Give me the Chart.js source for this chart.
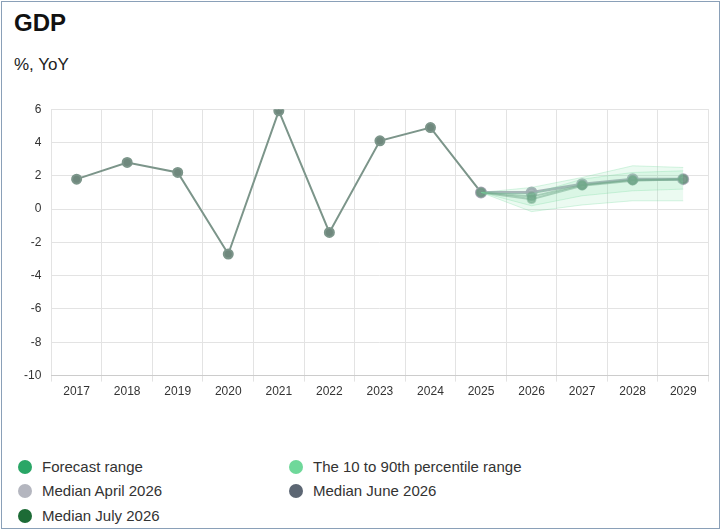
<!DOCTYPE html>
<html><head><meta charset="utf-8">
<script src="https://cdn.jsdelivr.net/npm/chart.js@4"></script>
<style>
body{margin:0;font-family:"Liberation Sans",Arial,sans-serif;background:#fff}
#wrap{position:absolute;left:1px;top:1px;width:719px;height:528px;border:1px solid #8aa0b8;box-sizing:border-box}
h1{position:absolute;left:12px;top:7px;margin:0;font-size:24px;font-weight:700;color:#111}
#sub{position:absolute;left:12px;top:53px;font-size:17px;color:#222}
#cv{position:absolute;left:12px;top:90px;width:702px;height:310px}
.lg{position:absolute;font-size:15px;color:#333;display:flex;align-items:center}
.lg i{display:inline-block;width:14px;height:14px;border-radius:50%;margin-right:10px}
</style></head><body>
<div id="wrap">
<h1>GDP</h1><div id="sub">%, YoY</div>
<div id="cv"><canvas id="c"></canvas></div>
<div class="lg" style="left:16px;top:456px"><i style="background:#2aa666"></i>Forecast range</div>
<div class="lg" style="left:287px;top:456px"><i style="background:#6fd89a"></i>The 10 to 90th percentile range</div>
<div class="lg" style="left:16px;top:480px"><i style="background:#b4b6bf"></i>Median April 2026</div>
<div class="lg" style="left:287px;top:480px"><i style="background:#5c6673"></i>Median June 2026</div>
<div class="lg" style="left:16px;top:505px"><i style="background:#1d6b36"></i>Median July 2026</div>
</div>
<script>
const years = ['2017','2018','2019','2020','2021','2022','2023','2024','2025','2026','2027','2028','2029'];
const actual = [1.8, 2.8, 2.2, -2.7, 5.9, -1.4, 4.1, 4.9, 1.0, null, null, null, null];
const rangeLow = [null, null, null, null, null, null, null, null, 1.0, -0.15, 0.25, 0.5, 0.5];
const rangeHigh = [null, null, null, null, null, null, null, null, 1.0, 1.3, 1.9, 2.6, 2.5];
const pctLow = [null, null, null, null, null, null, null, null, 1.0, 0.2, 0.8, 1.1, 1.2];
const pctHigh = [null, null, null, null, null, null, null, null, 1.0, 0.9, 1.8, 2.2, 2.3];
const medApril = [null, null, null, null, null, null, null, null, 1.0, 1.0, 1.5, 1.8, 1.8];
const medJune = [null, null, null, null, null, null, null, null, 1.0, 0.75, 1.45, 1.75, 1.8];
const medJuly = [null, null, null, null, null, null, null, null, 1.0, 0.6, 1.4, 1.7, 1.8];
const yTicks = [6, 4, 2, 0, -2, -4, -6, -8, -10];

const band = (d, fill, c) => ({data: d, borderColor: c, borderWidth: 1, pointRadius: 0, fill: fill, backgroundColor: 'rgba(120,220,160,0.15)'});
new Chart(document.getElementById('c'), {
  type: 'line',
  data: {labels: years, datasets: [
    band(rangeLow, false, 'rgba(120,220,160,0.3)'),
    band(rangeHigh, '-1', 'rgba(120,220,160,0.3)'),
    band(pctLow, false, 'rgba(120,220,160,0.3)'),
    band(pctHigh, '-1', 'rgba(120,220,160,0.3)'),
    {data: medJune, borderColor: 'rgba(110,150,130,0.5)', backgroundColor: 'rgba(110,150,130,0.5)', borderWidth: 2, pointRadius: 4},
    {data: medJuly, borderColor: 'rgba(110,150,130,0.5)', backgroundColor: 'rgba(110,150,130,0.6)', borderWidth: 2, pointRadius: 4},
    {data: medApril, borderColor: 'rgba(165,165,180,0.9)', backgroundColor: 'rgba(165,165,180,0.85)', borderWidth: 3, pointRadius: 4.5},
    {data: actual, borderColor: '#7c958a', backgroundColor: '#6f887d', borderWidth: 2, pointRadius: 4.5}
  ]},
  options: {
    responsive: true, maintainAspectRatio: false, animation: false,
    plugins: {legend: {display: false}, tooltip: {enabled: false}},
    layout: {padding: {right: 6}},
    scales: {
      x: {offset: true, grid: {offset: true, color: '#e3e3e3', drawTicks: true, tickLength: 6},
          border: {color: '#ccc'}, ticks: {color: '#333', font: {size: 12}}},
      y: {min: -10, max: 6, afterBuildTicks: a => { a.ticks = yTicks.map(v => ({value: v})); },
          grid: {color: '#e3e3e3', drawTicks: false}, border: {display: false},
          ticks: {color: '#333', font: {size: 12}, padding: 10}}
    }
  }
});
</script></body></html>
